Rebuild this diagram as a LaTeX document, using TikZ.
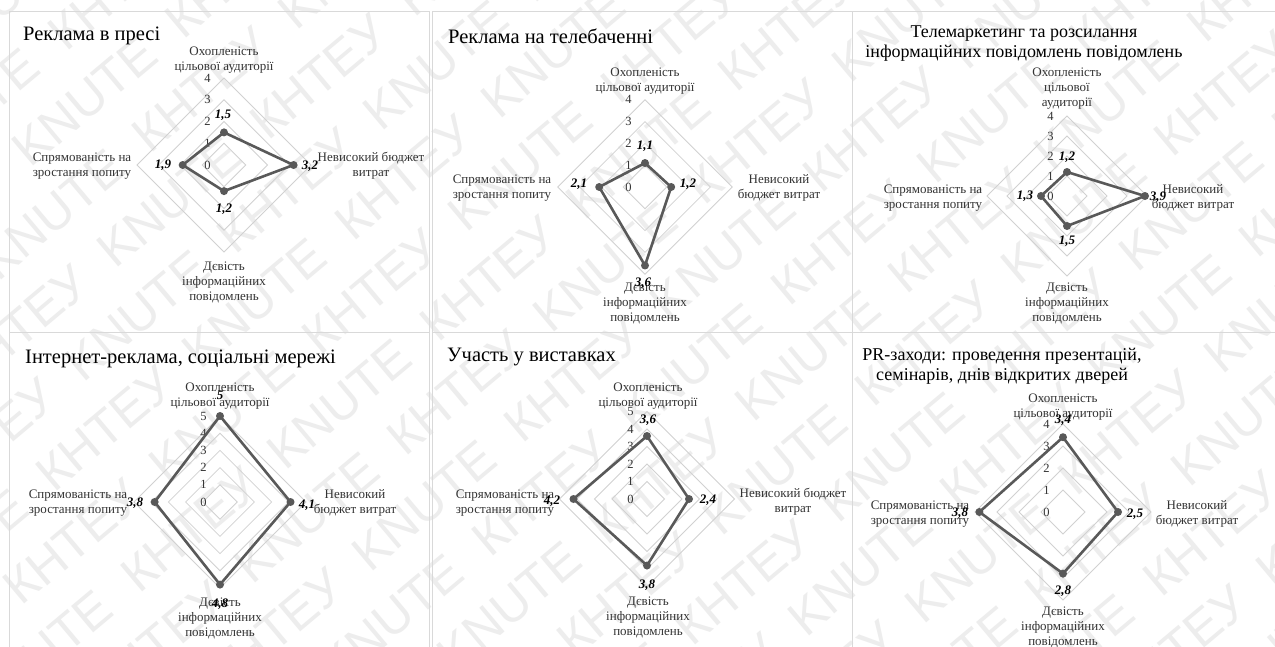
\documentclass[tikz,border=0pt]{standalone}
\usepackage{fontspec}
\setmainfont{Liberation Serif}
\newfontfamily\wmfont{Liberation Sans}
\tikzset{
 gridln/.style={draw=black!18, line width=0.8pt},
 series/.style={draw=black!65, line width=2.6pt, line join=round},
 dot/.style={circle, fill=black!65, inner sep=0pt, minimum size=8pt},
 tick/.style={font=\fontsize{12.5}{12.5}\selectfont, inner sep=0pt, text=black!80},
 cat/.style={font=\fontsize{13}{15}\selectfont, align=center, inner sep=0pt, text=black!80},
 dlab/.style={font=\fontsize{13}{13}\selectfont\bfseries\itshape, inner sep=0pt},
 ttl/.style={font=\fontsize{20.5}{20.5}\selectfont, inner sep=0pt, align=center},
 ttltwo/.style={font=\fontsize{18}{20}\selectfont, inner sep=0pt, align=center},
 panel/.style={draw=black!15, line width=0.8pt},
 wm/.style={font=\wmfont\fontsize{50}{50}\selectfont, text=black!7, rotate=40, inner sep=0pt},
}
% #1 id, #2 cx, #3 cy, #4 unit, #5 max, #6 top, #7 right, #8 bottom, #9 left
\newcommand{\myradar}[9]{%
 \begin{scope}[shift={(#2,#3)}]
  \foreach \k in {1,...,#5} {
    \draw[gridln] (0,-\k*#4) -- (\k*#4,0) -- (0,\k*#4) -- (-\k*#4,0) -- cycle;
  }
  \foreach \k in {0,...,#5} \node[tick] (#1k\k) at (-16.5,-\k*#4) {\k};
  \coordinate (#1T) at (0,-#6*#4);
  \coordinate (#1R) at (#7*#4,0);
  \coordinate (#1B) at (0,#8*#4);
  \coordinate (#1L) at (-#9*#4,0);
  \draw[series] (#1T) -- (#1R) -- (#1B) -- (#1L) -- cycle;
  \foreach \p in {T,R,B,L} \node[dot] (#1d\p) at (#1\p) {};
 \end{scope}}
\begin{document}
\begin{tikzpicture}[x=1pt,y=-1pt]
\useasboundingbox (0,0) rectangle (1275,646);
\fill[white] (0,0) rectangle (1275,646);
% watermark
\begin{scope}
 \clip (0,0) rectangle (1275,646);
 \begin{scope}[rotate=40]
  \foreach \j in {0,...,20} {
   \foreach \i in {-3,...,6} {
    \pgfmathsetmacro{\xx}{\i*195 + mod(\j,2)*97}
    \pgfmathtruncatemacro{\wsel}{mod(\i+\j+100,2)}
    \node[wm] (w\i x\j) at (\xx, \j*66) {\ifnum\wsel=0 KNUTE\else КНТЕУ\fi};
   }
  }
 \end{scope}
\end{scope}
% panels
\draw[panel] (9,11) rectangle (429,332);
\draw[panel] (432,11) rectangle (852,332);
\draw[panel] (852,11) rectangle (1280,332);
\draw[panel] (9,332) rectangle (429,650);
\draw[panel] (432,332) rectangle (852,650);
\draw[panel] (852,332) rectangle (1280,650);

% ---------- Panel 1
\node[ttl, anchor=west] (t1) at (23,36) {Реклама в пресі};
\myradar{a}{224}{165}{21.75}{4}{1.5}{3.2}{1.2}{1.9}
\node[cat] (a1) at (224,60) {Охопленість\\цільової аудиторії};
\node[cat] (a2) at (371,166) {Невисокий бюджет\\витрат};
\node[cat] (a3) at (82,166) {Спрямованість на\\зростання попиту};
\node[cat] (a4) at (224,282) {Дєвість\\інформаційних\\повідомлень};
\node[dlab] (av1) at (223,115) {1,5};
\node[dlab] (av2) at (310,166) {3,2};
\node[dlab] (av3) at (163,165) {1,9};
\node[dlab] (av4) at (224,209) {1,2};

% ---------- Panel 2
\node[ttl, anchor=west] (t2) at (448,36) {Реклама на телебаченні};
\myradar{b}{645}{187}{21.8}{4}{1.1}{1.2}{3.6}{2.1}
\node[cat] (b1) at (645,81) {Охопленість\\цільової аудиторії};
\node[cat] (b2) at (779,188) {Невисокий\\бюджет витрат};
\node[cat] (b3) at (502,188) {Спрямованість на\\зростання попиту};
\node[cat] (b4) at (645,303) {Дєвість\\інформаційних\\повідомлень};
\node[dlab] (bv1) at (645,146) {1,1};
\node[dlab] (bv2) at (688,184) {1,2};
\node[dlab] (bv3) at (579,184) {2,1};
\node[dlab] (bv4) at (643,283) {3,6};

% ---------- Panel 3
\node[ttltwo] (t3) at (1024,44) {Телемаркетинг та розсилання\\інформаційних повідомлень повідомлень};
\myradar{c}{1067}{196}{20}{4}{1.2}{3.9}{1.5}{1.3}
\node[cat] (c1) at (1067,89) {Охопленість\\цільової\\аудиторії};
\node[cat] (c2) at (1193,198) {Невисокий\\бюджет витрат};
\node[cat] (c3) at (933,198) {Спрямованість на\\зростання попиту};
\node[cat] (c4) at (1067,303) {Дєвість\\інформаційних\\повідомлень};
\node[dlab] (cv1) at (1067,157) {1,2};
\node[dlab] (cv2) at (1158,197) {3,9};
\node[dlab] (cv3) at (1025,196) {1,3};
\node[dlab] (cv4) at (1067,241) {1,5};

% ---------- Panel 4
\node[ttl, anchor=west] (t4) at (25,359) {Інтернет-реклама, соціальні мережі};
\myradar{d}{220}{502}{17.2}{5}{5}{4.1}{4.8}{3.8}
\node[cat] (d1) at (220,396) {Охопленість\\цільової аудиторії};
\node[cat] (d2) at (355,503) {Невисокий\\бюджет витрат};
\node[cat] (d3) at (78,503) {Спрямованість на\\зростання попиту};
\node[cat] (d4) at (220,618) {Дєвість\\інформаційних\\повідомлень};
\node[dlab] (dv1) at (220,395) {5};
\node[dlab] (dv2) at (307,505) {4,1};
\node[dlab] (dv3) at (135,503) {3,8};
\node[dlab] (dv4) at (220,604) {4,8};

% ---------- Panel 5
\node[ttl, anchor=west] (t5) at (447,357) {Участь у виставках};
\myradar{e}{647}{499}{17.5}{5}{3.6}{2.4}{3.8}{4.2}
\node[cat] (e1) at (648,396) {Охопленість\\цільової аудиторії};
\node[cat] (e2) at (793,502) {Невисокий бюджет\\витрат};
\node[cat] (e3) at (505,503) {Спрямованість на\\зростання попиту};
\node[cat] (e4) at (648,617) {Дєвість\\інформаційних\\повідомлень};
\node[dlab] (ev1) at (648,420) {3,6};
\node[dlab] (ev2) at (708,500) {2,4};
\node[dlab] (ev3) at (552,501) {4,2};
\node[dlab] (ev4) at (647,585) {3,8};

% ---------- Panel 6
\node[ttltwo] (t6) at (1002,366) {PR-заходи: проведення презентацій,\\семінарів, днів відкритих дверей};
\myradar{f}{1063}{512}{22}{4}{3.4}{2.5}{2.8}{3.8}
\node[cat] (f1) at (1063,407) {Охопленість\\цільової аудиторії};
\node[cat] (f2) at (1197,514) {Невисокий\\бюджет витрат};
\node[cat] (f3) at (920,514) {Спрямованість на\\зростання попиту};
\node[cat] (f4) at (1063,627) {Дєвість\\інформаційних\\повідомлень};
\node[dlab] (fv1) at (1063,420) {3,4};
\node[dlab] (fv2) at (1135,514) {2,5};
\node[dlab] (fv3) at (960,513) {3,8};
\node[dlab] (fv4) at (1063,591) {2,8};
\end{tikzpicture}
\end{document}
